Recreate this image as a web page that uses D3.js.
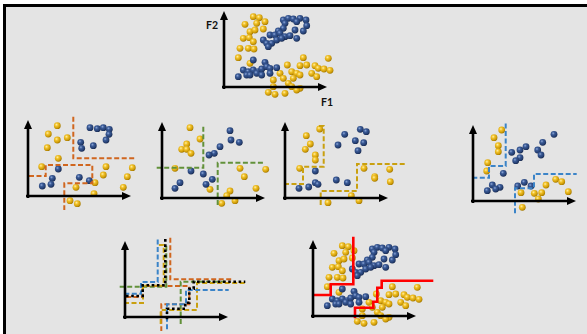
<!DOCTYPE html>
<html>
<head>
<meta charset="utf-8">
<script src="https://cdn.jsdelivr.net/npm/d3@7"></script>
<style>
  html, body { margin: 0; padding: 0; background: #ffffff; }
  svg { display: block; }
</style>
</head>
<body>
<svg id="chart" width="587" height="334"></svg>
<script>
// ---- data: every point is [F1, F2] ----

// full training set (two classes)
const fullGold = [[29.3,70.3],[35.3,69.3],[41,65.3],[21,62.7],[32.7,63.7],[39.3,58],[26,55.3],[31,57],
  [19.3,48.7],[25.3,49.3],[29.3,45.3],[16,38.7],[24.3,38.7],[30,38],[14.3,29.3],[26,23.7],
  [79.3,29.3],[104.3,28.7],[63.3,22],[76,21.3],[82.7,22],[91,21.3],[94.3,18.7],[100,18],[106,16.7],
  [56,13.7],[67.7,15.3],[72.7,13.7],[87.7,13.7],[92.7,10.3],[76,12],[59.3,8.7],[69.3,8.7],[49.3,7],
  [64.3,3.7],[67.7,0.3],[76,-1.3],[49.3,0.3],[44.3,-5.3],[51,-7.3],[61,-6.3],[72.7,-3]];
const fullBlue = [[59.3,67],[64.3,68.7],[69.3,68],[76,68.7],[82,67],[61,63.7],[72.7,65.3],[82.7,61.3],
  [59.3,58.7],[71,57],[54.3,56],[79.3,56],[46,52],[51,52],[56,53.7],[61,50.3],[66,51.3],[72.7,48.7],
  [39.3,47],[42.7,43.7],[47.7,43.7],[52.7,47],[57.7,48.7],[44.3,40.3],[29.3,27],[41,24.7],
  [19.3,17],[24.3,15.3],[29.3,17],[34.3,15.3],[37.7,18],[42.7,20.3],[46,18.7],[52.7,19.3],
  [14.3,10.3],[22.7,12],[32.7,13.7],[37.7,12],[46,13.7],[26,12]];

// bootstrap sample 1 and its splits
const tree1Gold = [[29.3,70.3],[20.3,62],[29.3,56],[39.3,58.3],[19.3,48.3],[30.3,37.7],[13.7,29.3],[78,29.3],
  [104.3,28.3],[75.3,21],[99.3,19.3],[67,13.3],[48,8.7],[95.3,8.7],[66,2.3],[42,-4.7],[49.3,-7.7]];
const tree1Blue = [[62,68.3],[69.3,67.3],[75.3,68.3],[81.3,66.7],[81,61.7],[78,56],[52.7,53.7],[53.7,47.7],
  [65.3,50.3],[30.3,27],[24.3,17.7],[23,11.7],[14.3,10],[51.3,18.7],[61.3,15.3]];
const tree1Splits = [
  [[45.3,79.3],[45.3,37.7],[108.7,37.7]],
  [[1,20],[17.7,20],[17.7,31],[64.3,31],[64.3,12.7],[36.3,12.7],[36.3,-14]]
];

// bootstrap sample 2 and its splits
const tree2Gold = [[28,70.3],[38,59],[24.7,54],[19.7,48.7],[24.7,48.7],[29,44.7],[13,29.7],[78,29.7],
  [82.3,21.3],[103.7,28.7],[48,8.7],[68,7],[64.7,2.3],[94,9.7],[73,-2.7],[59.7,-5.3]];
const tree2Blue = [[68,67.3],[69,58],[77.3,55.7],[58,51.3],[52.3,44.7],[47,43],[29,27],[41.3,24],
  [50.3,18.7],[44,13.7],[18,15.3],[13,9.7]];
const tree2Splits = [
  [[-5.3,30.3],[41.3,30.3],[41.3,73.7]],
  [[55.7,-7],[55.7,35.3],[103,35.3]]
];

// bootstrap sample 3 and its splits
const tree3Gold = [[34.7,69],[21.3,62.3],[25.3,54],[20.3,48.7],[30.3,43],[30.3,38],[14.7,29.7],[79,29.7],
  [104.7,28.7],[89.7,21.3],[89.7,19.7],[105.3,16.3],[66.3,2.3],[74,-2.7],[43,-4.7]];
const tree3Blue = [[59.7,63.7],[75.3,68.7],[81.3,66.3],[70.3,57.3],[78.7,55.3],[53,53],[73,47.3],[30.3,27],
  [51.3,18],[62.3,15.3],[30.3,15.3],[33,13.7],[23.7,11],[14,9.7]];
const tree3Splits = [
  [[-1,14],[18,14],[18,31.3],[38.7,31.3],[38.7,72],[33.7,72]],
  [[35.7,-7],[35.7,7],[72,7],[72,34],[119.7,34]]
];

// bootstrap sample 4 and its splits
const tree4Gold = [[28.7,71],[21,63.3],[25.3,55.3],[25.3,49.3],[14.7,38.3],[13.7,30],[73,16],[82.7,21.7],
  [88.7,19.3],[95.3,9.3],[48,8.3],[61.3,7.7],[68.7,8.3],[65.3,2],[49.3,-6.3]];
const tree4Blue = [[81,66.7],[69.7,58.7],[64.7,51],[68,46],[53,54.3],[47,51],[38.7,48.7],[47,43.3],
  [42.7,40.3],[30.3,27.7],[19.3,16],[27,13.7],[22.7,12],[14.3,10.3],[44.7,15],[51.3,18.7],[58,15]];
const tree4Splits = [
  [[-0.7,23.3],[16,23.3],[16,35],[32.7,35],[32.7,77.7]],
  [[42,-12.3],[42,12.7],[61,12.7],[61,27],[103.7,27]]
];

// combined (majority vote) boundary
const forestSplits = [
  [[1,21],[17.7,21],[17.7,31.7],[40.3,31.7],[40.3,79.3]],
  [[42,-2.3],[42,8.3],[60.3,8.3],[60.3,14.3],[64.3,14.3],[64.3,28.3],[68.7,28.3],[68.7,35.3],[120.3,35.3]]
];

const axisNames = ["F1", "F2"];
const axisExtent = [103, 76];   // feature range shown on each axis

// ---- drawing ----
const svg = d3.select("#chart");

// backdrop frame
svg.append("rect")
  .attr("x", 4.5).attr("y", 5.5)
  .attr("width", 620).attr("height", 360)
  .attr("fill", "#e4e4e4")
  .attr("stroke", "#000").attr("stroke-width", 3);

// shaded sphere fills for the two classes
const defs = svg.append("defs");
function sphere(id, stops) {
  const g = defs.append("radialGradient").attr("id", id)
    .attr("cx", "38%").attr("cy", "35%").attr("r", "65%");
  stops.forEach(([o, c]) => g.append("stop").attr("offset", o).attr("stop-color", c));
}
sphere("gold", [["0%", "#fff0a8"], ["35%", "#f2c22a"], ["80%", "#cc9a08"], ["100%", "#a67a00"]]);
sphere("blue", [["0%", "#8ea8d8"], ["35%", "#3a5a96"], ["80%", "#253f72"], ["100%", "#182a50"]]);

const lineColors = { orange: "#d0661f", green: "#62913a", gold: "#c9a010", blue: "#3b84c8" };

function panel(ox, oy) {
  const x = d3.scaleLinear().domain([0, axisExtent[0]]).range([ox, ox + axisExtent[0]]);
  const y = d3.scaleLinear().domain([0, axisExtent[1]]).range([oy, oy - axisExtent[1]]);
  const g = svg.append("g");
  return { x, y, g };
}

function drawAxes(p, labels) {
  const { x, y, g } = p;
  const x0 = x(0), y0 = y(0), xe = x(axisExtent[0]), ye = y(axisExtent[1]);
  g.append("line").attr("x1", x0 - 2).attr("y1", y0).attr("x2", xe - 5).attr("y2", y0)
    .attr("stroke", "#000").attr("stroke-width", 2.6);
  g.append("line").attr("x1", x0).attr("y1", y0 + 2).attr("x2", x0).attr("y2", ye + 5)
    .attr("stroke", "#000").attr("stroke-width", 2.6);
  g.append("path").attr("d", `M${xe},${y0} L${xe - 9},${y0 - 4} L${xe - 9},${y0 + 4} Z`).attr("fill", "#000");
  g.append("path").attr("d", `M${x0},${ye} L${x0 - 4},${ye + 9} L${x0 + 4},${ye + 9} Z`).attr("fill", "#000");
  if (labels) {
    g.append("text").attr("x", xe - 6).attr("y", y0 + 19)
      .attr("font-family", "Lato, 'Open Sans', sans-serif").attr("font-weight", 700)
      .attr("font-size", 10.5).attr("fill", "#111").text(axisNames[0]);
    g.append("text").attr("x", x0 - 18).attr("y", ye + 18)
      .attr("font-family", "Lato, 'Open Sans', sans-serif").attr("font-weight", 700)
      .attr("font-size", 10.5).attr("fill", "#111").text(axisNames[1]);
  }
}

function drawPoints(p, data, fill) {
  p.g.append("g").selectAll("circle").data(data).join("circle")
    .attr("cx", d => p.x(d[0])).attr("cy", d => p.y(d[1]))
    .attr("r", 3.4).attr("fill", `url(#${fill})`);
}

function drawSplits(p, paths, color, width, dash) {
  const line = d3.line().x(d => p.x(d[0])).y(d => p.y(d[1]));
  p.g.append("g").selectAll("path").data(paths).join("path")
    .attr("d", line).attr("fill", "none")
    .attr("stroke", color).attr("stroke-width", width)
    .attr("stroke-dasharray", dash || null);
}

// original data set
const dataPanel = panel(224, 87);
drawPoints(dataPanel, fullGold, "gold");
drawPoints(dataPanel, fullBlue, "blue");
drawAxes(dataPanel, true);

// the four trees, each on its own bootstrap sample
const trees = [
  { o: [28, 196], gold: tree1Gold, blue: tree1Blue, splits: tree1Splits, color: lineColors.orange },
  { o: [162, 198], gold: tree2Gold, blue: tree2Blue, splits: tree2Splits, color: lineColors.green },
  { o: [285, 198], gold: tree3Gold, blue: tree3Blue, splits: tree3Splits, color: lineColors.gold },
  { o: [473, 201], gold: tree4Gold, blue: tree4Blue, splits: tree4Splits, color: lineColors.blue }
];
trees.forEach(t => {
  const p = panel(t.o[0], t.o[1]);
  drawPoints(p, t.gold, "gold");
  drawPoints(p, t.blue, "blue");
  drawSplits(p, t.splits, t.color, 2, "5,2.5");
  drawAxes(p, false);
});

// all tree boundaries overlaid with the combined boundary
const overlayPanel = panel(125, 317);
trees.forEach(t => drawSplits(overlayPanel, t.splits, t.color, 2, "5,2.5"));
drawSplits(overlayPanel, forestSplits, "#000", 2.6, "2.6,2.6");
drawAxes(overlayPanel, false);

// combined boundary on the full data
const resultPanel = panel(313, 316);
drawPoints(resultPanel, fullGold, "gold");
drawPoints(resultPanel, fullBlue, "blue");
drawSplits(resultPanel, forestSplits, "#ff0000", 2.6, null);
drawAxes(resultPanel, false);
</script>
</body>
</html>
